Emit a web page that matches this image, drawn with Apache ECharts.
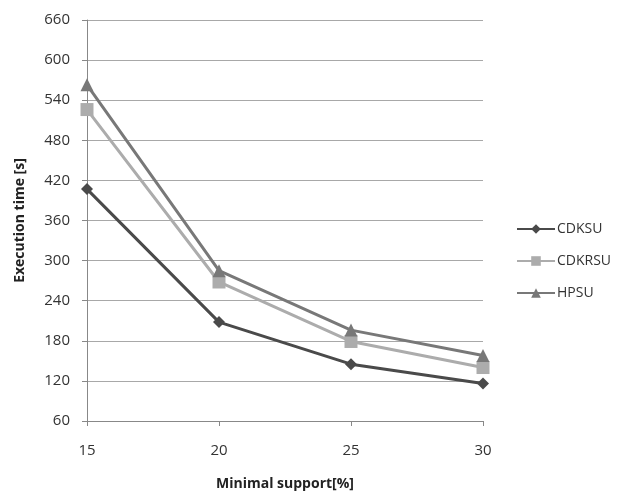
<!DOCTYPE html>
<html>
<head>
<meta charset="utf-8">
<script src="https://cdn.jsdelivr.net/npm/echarts@6/dist/echarts.min.js"></script>
<style>
  html, body { margin: 0; padding: 0; background: #fff; }
  #chart { width: 619px; height: 494px; }
</style>
</head>
<body>
<div id="chart"></div>
<script>
// Minimal support levels (%)
const supports = ['15', '20', '25', '30'];
// Execution times in seconds
const cdksu = [407, 208, 145, 116];
const cdkrsu = [526, 268, 179, 140];
const hpsu = [563, 285, 196, 158];

const font = 'Open Sans';

const chart = echarts.init(document.getElementById('chart'));
chart.setOption({
  backgroundColor: '#ffffff',
  animation: false,
  textStyle: { fontFamily: font },
  grid: { left: 87, right: 136, top: 20, bottom: 73, containLabel: false, outerBoundsMode: 'none' },
  legend: {
    orient: 'vertical',
    left: 511,
    top: 217,
    itemWidth: 38,
    itemHeight: 12,
    itemGap: 18,
    textStyle: { fontFamily: font, fontSize: 14, color: '#333', padding: [0, 0, 0, -3] },
    data: ['CDKSU', 'CDKRSU', 'HPSU']
  },
  xAxis: {
    type: 'category',
    data: supports,
    boundaryGap: false,
    name: 'Minimal support[%]',
    nameLocation: 'middle',
    nameGap: 56,
    nameTextStyle: { fontFamily: font, fontSize: 14, fontWeight: 'bold', color: '#222' },
    axisLine: { lineStyle: { color: '#888', width: 1 } },
    axisTick: { show: true, length: 5, lineStyle: { color: '#888' } },
    axisLabel: { fontFamily: font, fontSize: 15, color: '#333', margin: 22 },
    splitLine: { show: false }
  },
  yAxis: {
    type: 'value',
    min: 60,
    max: 660,
    interval: 60,
    name: 'Execution time [s]',
    nameLocation: 'middle',
    nameGap: 60,
    nameTextStyle: { fontFamily: font, fontSize: 14, fontWeight: 'bold', color: '#222' },
    axisLine: { show: true, lineStyle: { color: '#888', width: 1 } },
    axisTick: { show: true, length: 5, lineStyle: { color: '#888' } },
    axisLabel: { fontFamily: font, fontSize: 15, color: '#333', margin: 17 },
    splitLine: { lineStyle: { color: '#a8a8a8', width: 1 } }
  },
  series: [
    {
      name: 'CDKSU', type: 'line', data: cdksu,
      symbol: 'diamond', symbolSize: 12,
      lineStyle: { color: '#4a4a4a', width: 3 },
      itemStyle: { color: '#4a4a4a' }
    },
    {
      name: 'CDKRSU', type: 'line', data: cdkrsu,
      symbol: 'rect', symbolSize: 13,
      lineStyle: { color: '#acacac', width: 3 },
      itemStyle: { color: '#acacac' }
    },
    {
      name: 'HPSU', type: 'line', data: hpsu,
      symbol: 'triangle', symbolSize: 13,
      lineStyle: { color: '#787878', width: 3 },
      itemStyle: { color: '#787878' }
    }
  ]
});
</script>
</body>
</html>
